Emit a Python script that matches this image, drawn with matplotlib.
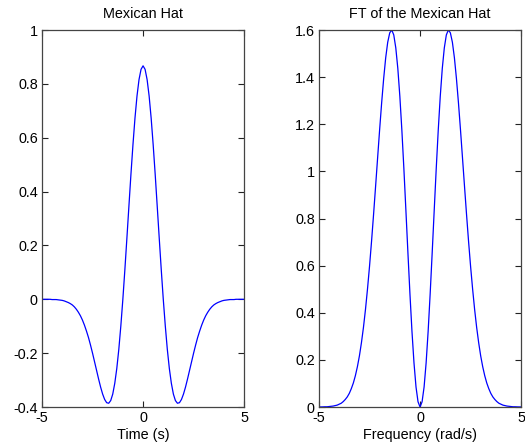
import numpy as np
import matplotlib
matplotlib.use("Agg")
import matplotlib.pyplot as plt

# sample positions, step 0.1 from -5 to 5
t = np.linspace(-5, 5, 101)

# Mexican hat (t = 0 ... 5, mirrored)
hat_right = [0.867, 0.854, 0.816, 0.755, 0.673, 0.574, 0.464, 0.346, 0.227, 0.110, 0.0,
             -0.099, -0.186, -0.257, -0.312, -0.352, -0.376, -0.386, -0.384, -0.372, -0.352,
             -0.326, -0.296, -0.264, -0.232, -0.200, -0.170, -0.142, -0.118, -0.096, -0.077,
             -0.061, -0.048, -0.037, -0.028, -0.021, -0.016, -0.012, -0.009, -0.006, -0.004,
             -0.003, -0.002, -0.001, -0.001, -0.001, 0.0, 0.0, 0.0, 0.0, 0.0]
hat = hat_right[:0:-1] + hat_right

# FT magnitude
ft_right = [0.0, 0.022, 0.085, 0.187, 0.321, 0.480, 0.654, 0.834, 1.011, 1.175, 1.319,
            1.437, 1.524, 1.579, 1.600, 1.588, 1.548, 1.482, 1.394, 1.291, 1.177,
            1.057, 0.936, 0.817, 0.703, 0.597, 0.501, 0.414, 0.338, 0.273, 0.217,
            0.171, 0.133, 0.102, 0.078, 0.058, 0.043, 0.032, 0.023, 0.016, 0.012,
            0.008, 0.006, 0.004, 0.003, 0.002, 0.001, 0.001, 0.0005, 0.0003, 0.0002]
ft = ft_right[:0:-1] + ft_right

x_ticks = [-5, 0, 5]
hat_ticks = [-0.4, -0.2, 0, 0.2, 0.4, 0.6, 0.8, 1]
ft_ticks = [0, 0.2, 0.4, 0.6, 0.8, 1, 1.2, 1.4, 1.6]

plt.rcParams['font.family'] = ['Liberation Sans', 'DejaVu Sans']
plt.rcParams['font.size'] = 10.4


def style_axes(ax):
    ax.tick_params(direction='in', top=True, right=True, length=4, width=0.8,
                   colors='#222222', labelcolor='black', pad=3)
    for s in ax.spines.values():
        s.set_color('#444444')
        s.set_linewidth(0.9)


def tick_text(v):
    return f"{v:g}"


fig = plt.figure(figsize=(5.25, 4.48), dpi=100)
ax1 = fig.add_axes([0.080, 0.0915, 0.385, 0.8415])
ax2 = fig.add_axes([0.6076, 0.0915, 0.385, 0.8415])

ax1.plot(t, hat, color='#0000ff', linewidth=0.9)
ax1.set_xlim(-5, 5)
ax1.set_ylim(-0.4, 1)
ax1.set_xticks(x_ticks)
ax1.set_xticklabels([tick_text(v) for v in x_ticks])
ax1.set_yticks(hat_ticks)
ax1.set_yticklabels([tick_text(v) for v in hat_ticks])
ax1.set_title("Mexican Hat", fontsize=10.4, pad=9)
ax1.set_xlabel("Time (s)", labelpad=2)
style_axes(ax1)

ax2.plot(t, ft, color='#0000ff', linewidth=0.9)
ax2.set_xlim(-5, 5)
ax2.set_ylim(0, 1.6)
ax2.set_xticks(x_ticks)
ax2.set_xticklabels([tick_text(v) for v in x_ticks])
ax2.set_yticks(ft_ticks)
ax2.set_yticklabels([tick_text(v) for v in ft_ticks])
ax2.set_title("FT of the Mexican Hat", fontsize=10.4, pad=9)
ax2.set_xlabel("Frequency (rad/s)", labelpad=2)
style_axes(ax2)

fig.savefig("out.png", dpi=100)
